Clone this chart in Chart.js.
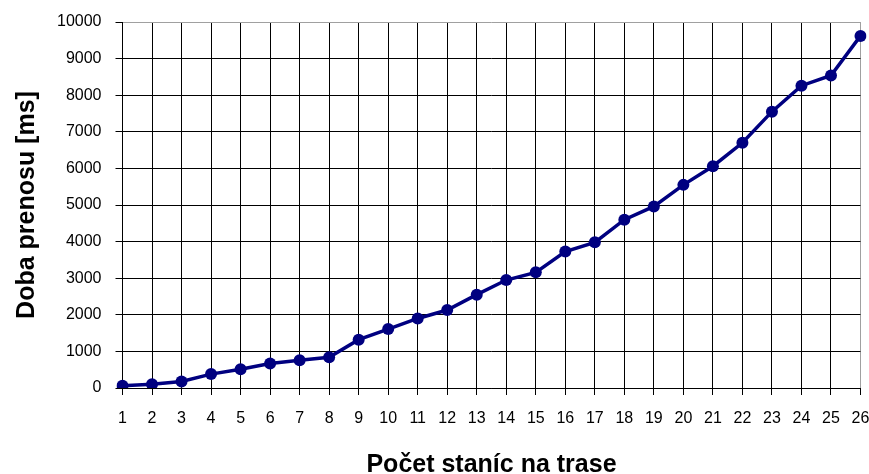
<!DOCTYPE html>
<html>
<head>
<meta charset="utf-8">
<script src="https://cdn.jsdelivr.net/npm/chart.js@4/dist/chart.umd.min.js"></script>
<style>
  html, body { margin: 0; padding: 0; background: #fff; }
  #wrap { width: 869px; height: 474px; position: relative; }
</style>
</head>
<body>
<div id="wrap"><canvas id="mycanvas"></canvas></div>
<script>
// pocet stanic na trase
var stations = ['1','2','3','4','5','6','7','8','9','10','11','12','13',
                '14','15','16','17','18','19','20','21','22','23','24','25','26'];
// doba prenosu [ms]
var transferTime = [60, 100, 180, 380, 510, 670, 760, 840, 1320, 1610, 1900, 2130, 2550,
                    2950, 3160, 3730, 3980, 4600, 4960, 5550, 6060, 6700, 7550, 8260, 8540, 9620];
var yTicks = [0, 1000, 2000, 3000, 4000, 5000, 6000, 7000, 8000, 9000, 10000];

var tickFont = { family: "'Liberation Sans', Arial, sans-serif", size: 16 };
var titleFont = { family: "'Liberation Sans', Arial, sans-serif", size: 25, weight: 'bold', lineHeight: 0.9 };

var chartdata = {
	labels: stations,
	datasets: [
		{
			label: "Doba prenosu",
			fill: false,
			tension: 0,
			borderColor: "#000080",
			backgroundColor: "#000080",
			borderWidth: 3.5,
			pointStyle: 'circle',
			pointRadius: 6,
			pointBackgroundColor: "#000080",
			pointBorderColor: "#000080",
			pointBorderWidth: 0,
			data: transferTime
		}
	]
};

var ctx = document.getElementById('mycanvas');

var LineGraph = new Chart(ctx, {
	type: 'line',
	data: chartdata,
	options: {
		responsive: true,
		maintainAspectRatio: false,
		animation: false,
		layout: { padding: { left: 0, top: 22, right: 8.5, bottom: 0 } },
		plugins: {
			legend: { display: false },
			tooltip: { enabled: false }
		},
		scales: {
			x: {
				type: 'category',
				offset: false,
				grid: {
					offset: false,
					color: function(c) { return c.index === stations.length - 1 ? '#a0a0a0' : '#000'; },
					tickColor: '#000',
					lineWidth: 1,
					tickLength: 7
				},
				border: { color: '#000', width: 1 },
				ticks: {
					color: '#000',
					font: tickFont,
					autoSkip: false,
					maxRotation: 0,
					padding: 14
				},
				title: {
					display: true,
					text: 'Počet staníc na trase',
					color: '#000',
					font: titleFont,
					padding: { top: 0, bottom: -2 }
				},
				afterFit: function(scale) {
					scale.height = 86;
					scale.paddingLeft = 0;
					scale.paddingRight = 0;
				}
			},
			y: {
				min: 0,
				max: 10000,
				afterBuildTicks: function(scale) {
					scale.ticks = yTicks.map(function(v) { return { value: v }; });
				},
				grid: {
					color: function(c) { return c.tick && c.tick.value === 10000 ? '#a0a0a0' : '#000'; },
					tickColor: '#000',
					lineWidth: 1,
					tickLength: 7
				},
				border: { color: '#000', width: 1 },
				ticks: {
					color: '#000',
					font: tickFont,
					padding: 14,
					callback: function(v) { return String(v); }
				},
				title: {
					display: true,
					text: 'Doba prenosu [ms]',
					color: '#000',
					font: titleFont,
					padding: { top: 16, bottom: 0 }
				},
				afterFit: function(scale) {
					scale.width = 122.5;
					scale.paddingTop = 0;
					scale.paddingBottom = 0;
				}
			}
		}
	}
});
</script>
</body>
</html>
